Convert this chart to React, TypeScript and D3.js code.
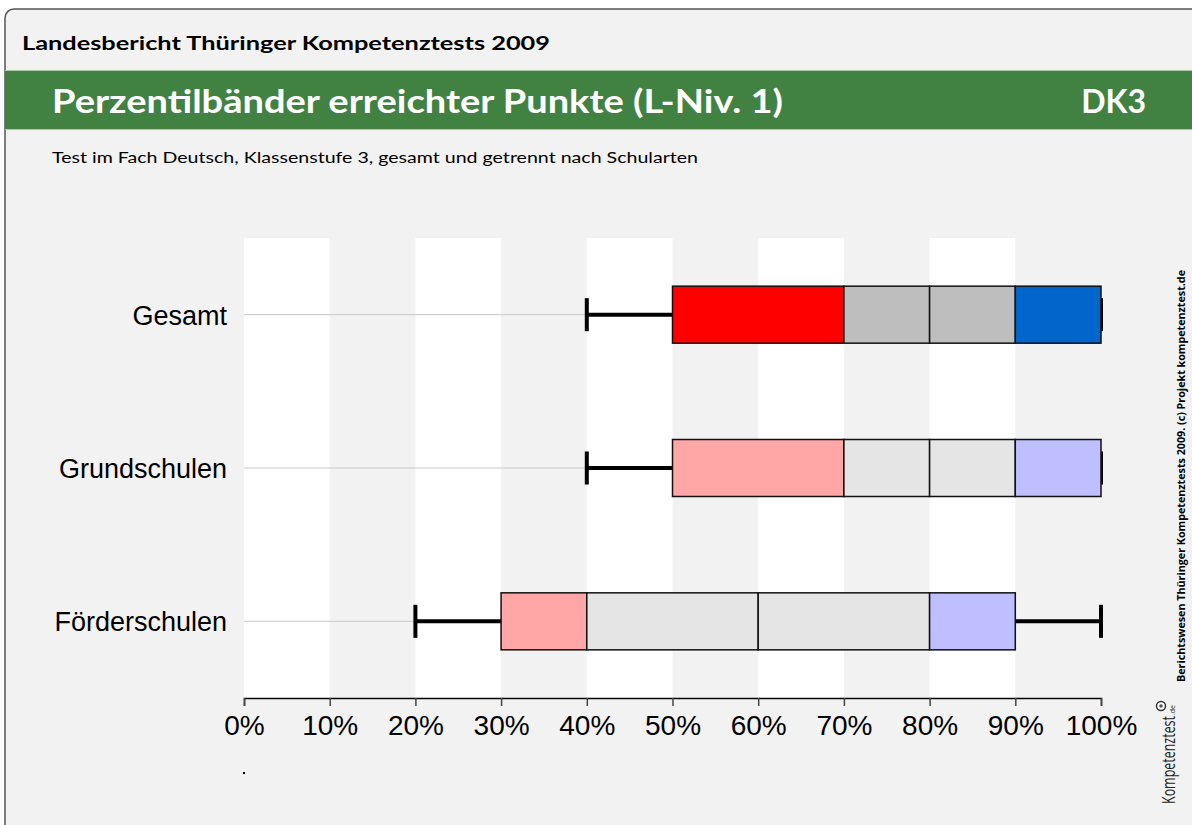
import * as React from "react";
import * as d3 from "d3";

// categories and percentile values (share of points reached)
const categories = ["Gesamt", "Grundschulen", "Förderschulen"];
const p5 = [0.4, 0.4, 0.2];
const p10 = [0.5, 0.5, 0.3];
const p25 = [0.7, 0.7, 0.4];
const p50 = [0.8, 0.8, 0.6];
const p75 = [0.9, 0.9, 0.8];
const p90 = [1.0, 1.0, 0.9];
const p95 = [1.0, 1.0, 1.0];
const xTicks = [0, 0.1, 0.2, 0.3, 0.4, 0.5, 0.6, 0.7, 0.8, 0.9, 1.0];

// fill colors for the four box segments: first row strong, others pale
const strongColors = ["#ff0000", "#bebebe", "#bebebe", "#0066cc"];
const paleColors = ["#ffa6a6", "#e5e5e5", "#e5e5e5", "#bfbfff"];

const W = 1192;
const H = 825;
const plot = { left: 244, right: 1101, top: 238, bottom: 698 };
const BOX_H = 57;
const CAP_H = 33;

const x = d3.scaleLinear().domain([0, 1]).range([plot.left, plot.right]);
const y = d3.scaleBand().domain(categories).range([plot.top, plot.bottom]);

const Axis = () => {
  const ref = React.useRef<SVGGElement>(null);
  React.useEffect(() => {
    const g = d3.select(ref.current);
    g.call(
      d3.axisBottom(x)
        .tickValues(xTicks)
        .tickFormat(d3.format(".0%"))
        .tickSize(8)
        .tickPadding(9)
    );
    g.select(".domain").attr("stroke", "#000").attr("stroke-width", 1.5);
    g.selectAll(".tick line").attr("stroke", "#444").attr("stroke-width", 1.5);
    g.selectAll(".tick text")
      .attr("fill", "#000")
      .style("font-family", "'Liberation Sans', Arial, sans-serif")
      .style("font-size", "28px");
  }, []);
  return <g ref={ref} transform={`translate(0,${plot.bottom})`} />;
};

export default function App() {
  const sansTitle = "Lato, 'DejaVu Sans', sans-serif";
  const arial = "'Liberation Sans', Arial, sans-serif";
  const bandTicks = d3.range(0, 10);

  return (
    <div style={{ position: "absolute", left: 0, top: 0 }}>
      <svg width={W} height={H} style={{ display: "block", background: "#fff" }}>
        {/* frame */}
        <rect x={5} y={9} width={W + 20} height={H + 20} rx={9} fill="#f2f2f2" stroke="#555" strokeWidth={1.5} />

        <text x={22} y={50} fontFamily={sansTitle} fontWeight="bold" fontSize={19}
          textLength={528} lengthAdjust="spacingAndGlyphs" fill="#000">
          Landesbericht Thüringer Kompetenztests 2009
        </text>

        {/* green title band */}
        <rect x={5} y={70} width={W} height={60} fill="#418243" />
        <line x1={5} x2={W} y1={70.5} y2={70.5} stroke="#a8c8a8" />
        <line x1={5} x2={W} y1={129.5} y2={129.5} stroke="#a8c8a8" />
        <text x={52} y={113} fontFamily={sansTitle} fontWeight="bold" fontSize={32}
          textLength={731} lengthAdjust="spacingAndGlyphs" fill="#fff">
          Perzentilbänder erreichter Punkte (L-Niv. 1)
        </text>
        <text x={1146} y={113} fontFamily={sansTitle} fontWeight="bold" fontSize={32}
          textAnchor="end" fill="#fff">
          DK3
        </text>

        <text x={52} y={163} fontFamily={sansTitle} fontSize={15}
          textLength={646} lengthAdjust="spacingAndGlyphs" fill="#000">
          Test im Fach Deutsch, Klassenstufe 3, gesamt und getrennt nach Schularten
        </text>

        {/* alternating background bands */}
        {bandTicks.filter(i => i % 2 === 0).map(i => (
          <rect key={i} x={x(i / 10)} y={plot.top} width={x((i + 1) / 10) - x(i / 10)}
            height={plot.bottom - plot.top} fill="#fff" />
        ))}

        {categories.map((c, i) => {
          const cy = (y(c) as number) + y.bandwidth() / 2;
          const edges = [p10[i], p25[i], p50[i], p75[i], p90[i]];
          const colors = i === 0 ? strongColors : paleColors;
          return (
            <g key={c}>
              <text x={227} y={cy + 10} textAnchor="end" fontFamily={arial} fontSize={27} fill="#000">{c}</text>
              <line x1={plot.left} x2={x(p5[i])} y1={cy} y2={cy} stroke="#c8c8c8" strokeWidth={1} />
              {/* whiskers */}
              <line x1={x(p5[i])} x2={x(p10[i])} y1={cy} y2={cy} stroke="#000" strokeWidth={4} />
              <line x1={x(p90[i])} x2={x(p95[i])} y1={cy} y2={cy} stroke="#000" strokeWidth={4} />
              <line x1={x(p5[i])} x2={x(p5[i])} y1={cy - CAP_H / 2} y2={cy + CAP_H / 2} stroke="#000" strokeWidth={4} />
              <line x1={x(p95[i])} x2={x(p95[i])} y1={cy - CAP_H / 2} y2={cy + CAP_H / 2} stroke="#000" strokeWidth={4} />
              {/* box segments */}
              {colors.map((col, k) => (
                <rect key={k} x={x(edges[k])} y={cy - BOX_H / 2} width={x(edges[k + 1]) - x(edges[k])}
                  height={BOX_H} fill={col} stroke="#111" strokeWidth={1.5} />
              ))}
            </g>
          );
        })}

        <Axis />
        <rect x={243} y={772} width={2} height={2} fill="#000" />

        {/* side credits */}
        <text transform="translate(1185,476) rotate(-90)" textAnchor="middle" fontFamily="'Open Sans', sans-serif"
          fontWeight="bold" fontSize={10} textLength={412} lengthAdjust="spacingAndGlyphs" fill="#000">
          Berichtswesen  Thüringer Kompetenztests 2009.  (c) Projekt kompetenztest.de
        </text>
        <g transform="translate(1175,804) rotate(-90)">
          <text x={0} y={0} fontFamily="'Open Sans', sans-serif" fontSize={19} fill="#222"
            textLength={88} lengthAdjust="spacingAndGlyphs">Kompetenztest</text>
          <text x={89} y={0} fontFamily="'Open Sans', sans-serif" fontSize={7} fill="#222">.de</text>
        </g>
        <circle cx={1161} cy={706} r={4.5} fill="#fff" stroke="#333" strokeWidth={1.5} />
        <circle cx={1161} cy={706} r={1.8} fill="#555" />
      </svg>
    </div>
  );
}
